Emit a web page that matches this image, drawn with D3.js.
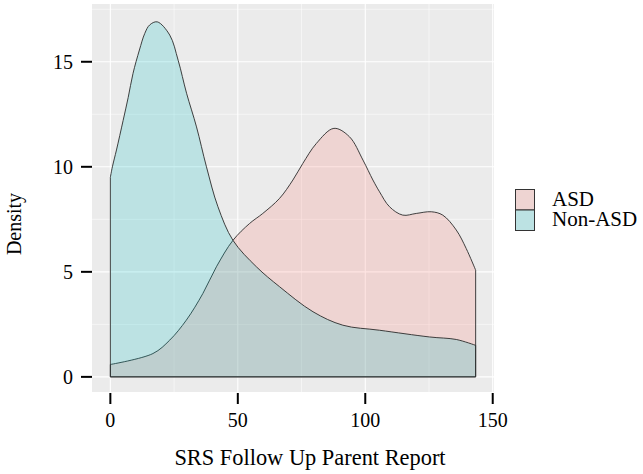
<!DOCTYPE html>
<html>
<head>
<meta charset="utf-8">
<script src="https://cdn.jsdelivr.net/npm/d3@7"></script>
<style>
  body { margin: 0; background: #fff; }
  text { font-family: "Liberation Serif", "Times New Roman", serif; }
</style>
</head>
<body>
<svg width="643" height="474"></svg>
<script>
// values (x = SRS score, y = density)
var groups = ["ASD", "Non-ASD"];
var groupColors = ["#F8766D", "#00BFC4"];

var asdX = [0, 16.7, 23.3, 29.8, 36.3, 41.6, 48.1, 54.6, 59.8, 66.4, 71.6, 75.5, 80.8, 87.7, 93.8, 99.1, 103, 105.6, 109.5, 114.7, 120, 125.9, 130.4, 135.7, 139.6, 143.3];
var asdY = [0.59, 1.11, 1.75, 2.7, 3.97, 5.24, 6.5, 7.3, 7.78, 8.5, 9.37, 10.16, 11.11, 11.83, 11.43, 10.32, 9.37, 8.81, 8.1, 7.7, 7.78, 7.86, 7.7, 6.99, 6.11, 5.08];

var nonX = [0, 0.8, 2.4, 5, 7, 8.9, 11.4, 13.5, 15.4, 18.4, 23.3, 26.6, 29.9, 33.8, 37.7, 42.2, 48.1, 57.3, 66.4, 79.5, 91.2, 105.6, 125.2, 135.7, 143.3];
var nonY = [9.5, 10, 10.8, 12.2, 13.3, 14.45, 15.56, 16.35, 16.75, 16.9, 16.27, 15.07, 13.5, 11.9, 10.0, 8.1, 6.5, 5.24, 4.29, 3.1, 2.46, 2.22, 1.9, 1.78, 1.5];

var xTicks = [0, 50, 100, 150];
var xMinor = [25, 75, 125];
var yTicks = [0, 5, 10, 15];
var yMinor = [2.5, 7.5, 12.5, 17.5];

var svg = d3.select("svg");

var panel = {left: 92, right: 494, top: 4, bottom: 392};

var x = d3.scaleLinear().domain([-7.2, 150.5]).range([panel.left, panel.right]);
var y = d3.scaleLinear().domain([-0.72, 17.75]).range([panel.bottom, panel.top]);

// panel background
svg.append("rect")
    .attr("x", panel.left)
    .attr("y", panel.top)
    .attr("width", panel.right - panel.left)
    .attr("height", panel.bottom - panel.top)
    .attr("fill", "#EBEBEB");

// grid
var grid = svg.append("g");
xMinor.forEach(function(v){
    grid.append("line").attr("x1", x(v)).attr("x2", x(v))
        .attr("y1", panel.top).attr("y2", panel.bottom)
        .attr("stroke", "#fff").attr("stroke-width", 0.55);
});
yMinor.forEach(function(v){
    grid.append("line").attr("y1", y(v)).attr("y2", y(v))
        .attr("x1", panel.left).attr("x2", panel.right)
        .attr("stroke", "#fff").attr("stroke-width", 0.55);
});
xTicks.forEach(function(v){
    grid.append("line").attr("x1", x(v)).attr("x2", x(v))
        .attr("y1", panel.top).attr("y2", panel.bottom)
        .attr("stroke", "#fff").attr("stroke-width", 1.1);
});
yTicks.forEach(function(v){
    grid.append("line").attr("y1", y(v)).attr("y2", y(v))
        .attr("x1", panel.left).attr("x2", panel.right)
        .attr("stroke", "#fff").attr("stroke-width", 1.1);
});

// densities
function closedPath(xs, ys){
    var pts = xs.map(function(v, i){ return [v, ys[i]]; });
    var line = d3.line()
        .x(function(d){ return x(d[0]); })
        .y(function(d){ return y(d[1]); })
        .curve(d3.curveCatmullRom.alpha(0.5));
    var top = line(pts);
    var last = pts[pts.length - 1];
    return "M" + x(pts[0][0]) + "," + y(0) + "L" + top.slice(1) +
        "L" + x(last[0]) + "," + y(0) + "Z";
}

var series = [[asdX, asdY], [nonX, nonY]];
series.forEach(function(s, i){
    svg.append("path")
        .attr("d", closedPath(s[0], s[1]))
        .attr("fill", groupColors[i])
        .attr("fill-opacity", 0.2)
        .attr("stroke", "#2b2b2b")
        .attr("stroke-width", 0.9);
});

// y axis
var yAxis = svg.append("g");
yTicks.forEach(function(v){
    yAxis.append("line").attr("x1", 81).attr("x2", 92)
        .attr("y1", y(v)).attr("y2", y(v))
        .attr("stroke", "#000").attr("stroke-width", 2);
    yAxis.append("text").attr("x", 73).attr("y", y(v) + 7)
        .attr("text-anchor", "end").attr("font-size", 20).attr("fill", "#000")
        .text(v);
});

// x axis
var xAxis = svg.append("g");
xTicks.forEach(function(v){
    xAxis.append("line").attr("x1", x(v)).attr("x2", x(v))
        .attr("y1", 393).attr("y2", 404)
        .attr("stroke", "#000").attr("stroke-width", 2);
    xAxis.append("text").attr("x", x(v)).attr("y", 427)
        .attr("text-anchor", "middle").attr("font-size", 20).attr("fill", "#000")
        .text(v);
});

svg.append("text")
    .attr("x", 310)
    .attr("y", 465)
    .attr("text-anchor", "middle")
    .attr("font-size", 22.4)
    .text("SRS Follow Up Parent Report");

svg.append("text")
    .attr("transform", "translate(21,224) rotate(-90)")
    .attr("text-anchor", "middle")
    .attr("font-size", 20)
    .text("Density");

// legend
var legend = svg.append("g");
groups.forEach(function(g, i){
    var ky = 189.5 + i * 20.5;
    legend.append("rect").attr("x", 515.5).attr("y", ky)
        .attr("width", 19).attr("height", 20.5)
        .attr("fill", "#EBEBEB");
    legend.append("rect").attr("x", 515.5).attr("y", ky)
        .attr("width", 19).attr("height", 20.5)
        .attr("fill", groupColors[i]).attr("fill-opacity", 0.2)
        .attr("stroke", "#333").attr("stroke-width", 1);
    legend.append("text").attr("x", 552).attr("y", ky + 16)
        .attr("font-size", 21).text(g);
});
</script>
</body>
</html>
